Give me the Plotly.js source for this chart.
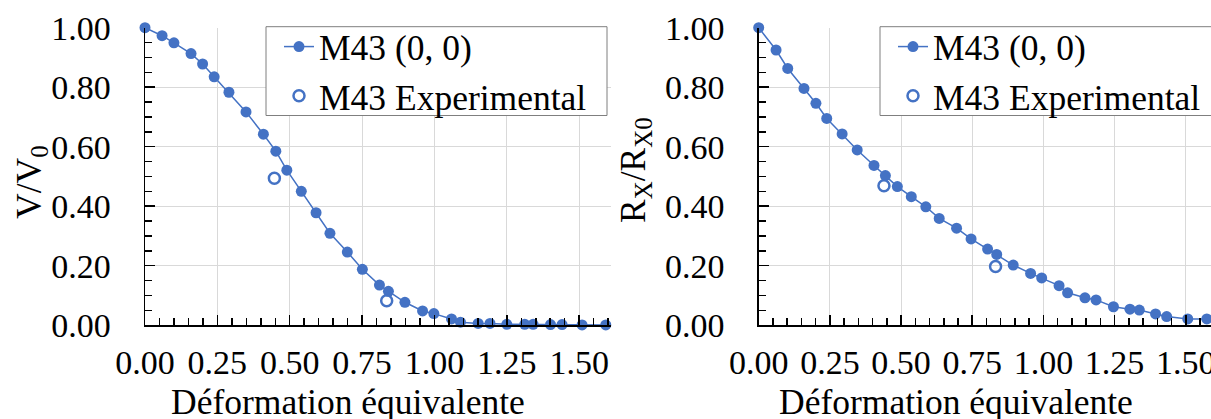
<!DOCTYPE html>
<html>
<head>
<meta charset="utf-8">
<script src="https://cdn.plot.ly/plotly-3.0.1.min.js"></script>
<style>
html,body{margin:0;padding:0;overflow:hidden;background:#fff;}
#chart{width:1211px;height:419px;}
</style>
</head>
<body>
<div id="chart"></div>
<script>
// Left panel: V/V0
const strainV = [0, 0.059, 0.100, 0.159, 0.199, 0.239, 0.290, 0.349, 0.409, 0.452, 0.490, 0.540, 0.591, 0.639, 0.699, 0.751, 0.810, 0.841, 0.898, 0.959, 0.998, 1.059, 1.090, 1.151, 1.192, 1.250, 1.312, 1.341, 1.401, 1.441, 1.510, 1.592];
const valV = [1.000, 0.973, 0.949, 0.913, 0.878, 0.835, 0.783, 0.717, 0.642, 0.585, 0.521, 0.450, 0.378, 0.309, 0.246, 0.188, 0.135, 0.114, 0.077, 0.048, 0.039, 0.021, 0.010, 0.006, 0.006, 0.003, 0.003, 0.003, 0.002, 0.002, 0.001, 0.001];
const expStrainV = [0.447, 0.835];
const expValV = [0.494, 0.082];

// Right panel: RX/RX0
const strainR = [0, 0.061, 0.102, 0.159, 0.201, 0.239, 0.293, 0.346, 0.405, 0.445, 0.487, 0.536, 0.587, 0.634, 0.695, 0.746, 0.804, 0.836, 0.894, 0.955, 0.994, 1.055, 1.085, 1.146, 1.185, 1.246, 1.304, 1.337, 1.394, 1.433, 1.507, 1.574];
const valR = [1.000, 0.925, 0.863, 0.796, 0.746, 0.695, 0.643, 0.589, 0.537, 0.503, 0.466, 0.432, 0.398, 0.359, 0.326, 0.290, 0.256, 0.238, 0.202, 0.174, 0.159, 0.133, 0.109, 0.092, 0.085, 0.062, 0.054, 0.051, 0.038, 0.029, 0.021, 0.021];
const expStrainR = [0.440, 0.832];
const expValR = [0.469, 0.197];

const seriesNames = ['M43 (0, 0)', 'M43 Experimental'];
const xTitle = 'Déformation équivalente';
const yTitleLeft = 'V/V<sub>0</sub>';
const yTitleRight = 'R<sub>X</sub>/R<sub>X0</sub>';

const BLUE = '#4472C4';
const FONT = 'Liberation Serif, Times New Roman, serif';
const W = 1211, H = 419;
const px = v => v / W;
const py = v => 1 - v / H;

function modelTrace(x, y, xa, ya, lg) {
  return {x: x, y: y, xaxis: xa, yaxis: ya, legend: lg, name: seriesNames[0],
    type: 'scatter', mode: 'lines+markers', cliponaxis: false,
    line: {color: BLUE, width: 1.5},
    marker: {color: BLUE, size: 11}};
}
function expTrace(x, y, xa, ya, lg) {
  return {x: x, y: y, xaxis: xa, yaxis: ya, legend: lg, name: seriesNames[1],
    type: 'scatter', mode: 'markers', cliponaxis: false,
    marker: {color: BLUE, size: 11, symbol: 'circle-open', line: {width: 2.5, color: BLUE}}};
}

const data = [
  modelTrace(strainV, valV, 'x', 'y', 'legend'),
  expTrace(expStrainV, expValV, 'x', 'y', 'legend'),
  modelTrace(strainR, valR, 'x2', 'y2', 'legend2'),
  expTrace(expStrainR, expValR, 'x2', 'y2', 'legend2')
];

function xAxis(domain, range, anchor) {
  return {domain: domain, range: range, anchor: anchor,
    tick0: 0, dtick: 0.25, tickformat: '.2f',
    ticks: 'inside', ticklen: 10, tickwidth: 1.5, tickcolor: '#000',
    showline: true, linecolor: '#000', linewidth: 1.5,
    showgrid: true, gridcolor: '#d9d9d9', gridwidth: 1,
    zeroline: false, ticklabelstandoff: 6, ticklabeloverflow: 'allow',
    tickfont: {family: FONT, size: 34, color: '#000'},
    minor: {dtick: 0.05, ticks: 'inside', ticklen: 7, tickwidth: 1.5, tickcolor: '#000', showgrid: false}};
}
function yAxis(domain, anchor) {
  return {domain: domain, range: [0, 1], anchor: anchor,
    tick0: 0, dtick: 0.2, tickformat: '.2f',
    ticks: 'inside', ticklen: 10, tickwidth: 1.5, tickcolor: '#000',
    showline: true, linecolor: '#000', linewidth: 1.5,
    showgrid: true, gridcolor: '#d9d9d9', gridwidth: 1,
    zeroline: false, ticklabelstandoff: 26,
    tickfont: {family: FONT, size: 34, color: '#000'},
    minor: {dtick: 0.05, ticks: 'inside', ticklen: 7, tickwidth: 1.5, tickcolor: '#000', showgrid: false}};
}

const yDom = [1 - 325.2 / H, 1 - 27.7 / H];
const legendStyle = {font: {family: FONT, size: 35.5, color: '#000'},
  borderwidth: 0, bgcolor: 'rgba(0,0,0,0)',
  xanchor: 'left', yanchor: 'top', tracegroupgap: 0};

function legendFrame(x0, x1) {
  return {type: 'rect', xref: 'paper', yref: 'paper', layer: 'above',
    x0: px(x0), x1: px(x1), y0: py(115.5), y1: py(26.7),
    line: {color: '#7f7f7f', width: 1}, fillcolor: '#fff'};
}
function titleAnn(text, x, y, angle) {
  return {text: text, xref: 'paper', yref: 'paper', x: px(x), y: py(y),
    xanchor: 'center', yanchor: 'middle', textangle: angle || 0, showarrow: false,
    font: {family: FONT, size: 35.5, color: '#000'}};
}

const layout = {
  width: W, height: H,
  margin: {l: 0, r: 0, t: 0, b: 0, autoexpand: false},
  paper_bgcolor: '#fff', plot_bgcolor: '#fff',
  font: {family: FONT, color: '#000'},
  xaxis: xAxis([px(145), px(611)], [0, 1.61], 'y'),
  yaxis: yAxis(yDom, 'x'),
  xaxis2: xAxis([px(758.7), 1], [0, (W - 758.7) / 284.7], 'y2'),
  yaxis2: yAxis(yDom, 'x2'),
  legend: Object.assign({x: px(279), y: py(17)}, legendStyle),
  legend2: Object.assign({x: px(893), y: py(17)}, legendStyle),
  shapes: [legendFrame(266, 607), legendFrame(880, 1230)],
  annotations: [
    titleAnn(xTitle, 348, 402),
    titleAnn(xTitle, 956, 402),
    titleAnn(yTitleLeft, 31, 182, -90),
    titleAnn(yTitleRight, 635, 170, -90)
  ],
  showlegend: true
};

Plotly.newPlot('chart', data, layout, {staticPlot: true, displayModeBar: false});
</script>
</body>
</html>
